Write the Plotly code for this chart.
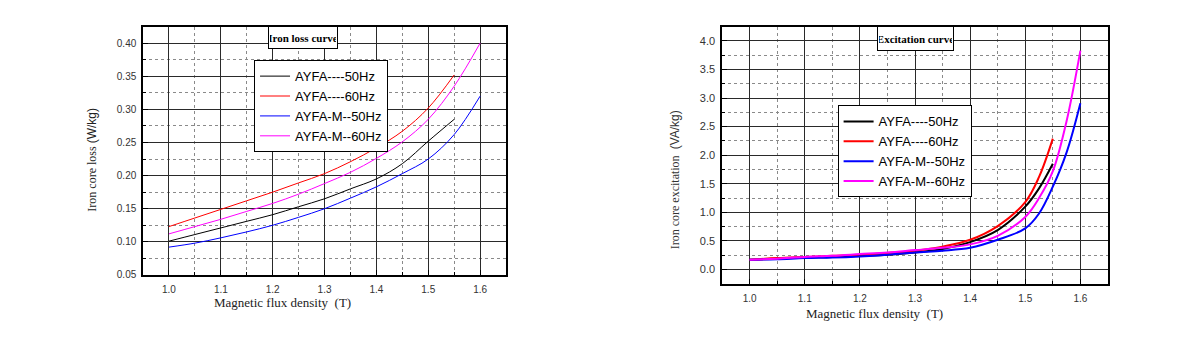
import plotly.graph_objects as go

# ---------------- data ----------------
series_names = ["AYFA----50Hz", "AYFA----60Hz", "AYFA-M--50Hz", "AYFA-M--60Hz"]
series_colors = ["#000000", "#ff0000", "#0000ff", "#ff00ff"]

# Iron loss curve (W/kg)
b_loss_short = [1.0, 1.05, 1.1, 1.15, 1.2, 1.25, 1.3, 1.35, 1.4, 1.45, 1.5, 1.55]
b_loss_long = [1.0, 1.05, 1.1, 1.15, 1.2, 1.25, 1.3, 1.35, 1.4, 1.45, 1.5, 1.55, 1.6]
loss_ayfa_50 = [0.101, 0.111, 0.121, 0.131, 0.141, 0.153, 0.165, 0.180, 0.195, 0.218, 0.252, 0.285]
loss_ayfa_60 = [0.123, 0.136, 0.149, 0.162, 0.175, 0.189, 0.203, 0.221, 0.242, 0.267, 0.302, 0.352]
loss_ayfam_50 = [0.092, 0.098, 0.106, 0.115, 0.125, 0.137, 0.150, 0.166, 0.183, 0.203, 0.225, 0.262, 0.320]
loss_ayfam_60 = [0.112, 0.123, 0.134, 0.146, 0.158, 0.172, 0.188, 0.205, 0.226, 0.251, 0.285, 0.335, 0.400]

# Excitation curve (VA/kg)
b_exc_short = [1.0, 1.05, 1.1, 1.15, 1.2, 1.25, 1.3, 1.35, 1.4, 1.45, 1.5, 1.525, 1.55]
b_exc_long = [1.0, 1.05, 1.1, 1.15, 1.2, 1.25, 1.3, 1.35, 1.4, 1.45, 1.5, 1.525, 1.55, 1.575, 1.6]
exc_ayfa_50 = [0.17, 0.19, 0.21, 0.22, 0.24, 0.26, 0.30, 0.36, 0.48, 0.69, 1.10, 1.42, 1.85]
exc_ayfa_60 = [0.17, 0.20, 0.22, 0.24, 0.26, 0.29, 0.33, 0.40, 0.52, 0.76, 1.18, 1.62, 2.29]
exc_ayfam_50 = [0.17, 0.18, 0.20, 0.21, 0.23, 0.26, 0.30, 0.33, 0.38, 0.52, 0.72, 0.98, 1.45, 2.05, 2.91]
exc_ayfam_60 = [0.17, 0.19, 0.22, 0.24, 0.27, 0.30, 0.34, 0.38, 0.44, 0.59, 0.92, 1.25, 1.72, 2.60, 3.83]

x_tick_vals = [1.0, 1.1, 1.2, 1.3, 1.4, 1.5, 1.6]
x_tick_text = ["1.0", "1.1", "1.2", "1.3", "1.4", "1.5", "1.6"]
loss_tick_vals = [0.05, 0.10, 0.15, 0.20, 0.25, 0.30, 0.35, 0.40]
loss_tick_text = ["0.05", "0.10", "0.15", "0.20", "0.25", "0.30", "0.35", "0.40"]
exc_tick_vals = [0.0, 0.5, 1.0, 1.5, 2.0, 2.5, 3.0, 3.5, 4.0]
exc_tick_text = ["0.0", "0.5", "1.0", "1.5", "2.0", "2.5", "3.0", "3.5", "4.0"]

# ---------------- figure ----------------
fig = go.Figure()

loss_sets = [(b_loss_short, loss_ayfa_50), (b_loss_short, loss_ayfa_60),
             (b_loss_long, loss_ayfam_50), (b_loss_long, loss_ayfam_60)]
exc_sets = [(b_exc_short, exc_ayfa_50), (b_exc_short, exc_ayfa_60),
            (b_exc_long, exc_ayfam_50), (b_exc_long, exc_ayfam_60)]

for name, color, (xs, ys) in zip(series_names, series_colors, loss_sets):
    fig.add_trace(go.Scatter(x=xs, y=ys, mode="lines", name=name,
                             line=dict(color=color, width=1, shape="spline"),
                             xaxis="x", yaxis="y", legend="legend"))
for name, color, (xs, ys) in zip(series_names, series_colors, exc_sets):
    fig.add_trace(go.Scatter(x=xs, y=ys, mode="lines", name=name,
                             line=dict(color=color, width=2, shape="spline"),
                             xaxis="x2", yaxis="y2", legend="legend2"))

tick_font = dict(family="Arial", size=10, color="#333333")
grid_major = "#2a2a2a"
grid_minor = "#8a8a8a"


def xaxis_cfg(domain, anchor):
    return dict(domain=domain, anchor=anchor, range=[0.95, 1.65],
                tickvals=x_tick_vals, ticktext=x_tick_text, tickfont=tick_font,
                ticks="inside", ticklen=5, tickcolor="black",
                showgrid=True, gridcolor=grid_major, gridwidth=1,
                showline=True, linecolor="black", linewidth=1.5, mirror=True,
                zeroline=False, ticklabelstandoff=4,
                minor=dict(dtick=0.05, tick0=0.95, showgrid=True, gridcolor=grid_minor,
                           griddash="dot", gridwidth=1, ticks="inside", ticklen=3,
                           tickcolor="black"))


fig.update_layout(
    width=1200, height=343,
    margin=dict(l=0, r=0, t=0, b=0),
    paper_bgcolor="white", plot_bgcolor="white",
    xaxis=xaxis_cfg([0.1192, 0.4217], "y"),
    xaxis2=xaxis_cfg([0.6017, 0.9233], "y2"),
    yaxis=dict(domain=[0.1866, 0.9213], anchor="x", range=[0.05, 0.425],
               tickvals=loss_tick_vals, ticktext=loss_tick_text, tickfont=tick_font,
               ticks="inside", ticklen=5, tickcolor="black",
               showgrid=True, gridcolor=grid_major, gridwidth=1,
               showline=True, linecolor="black", linewidth=1.5, mirror=True,
               zeroline=False, ticklabelstandoff=3,
               minor=dict(dtick=0.025, tick0=0.05, showgrid=True, gridcolor=grid_minor,
                          griddash="dot", gridwidth=1, ticks="inside", ticklen=3,
                          tickcolor="black")),
    yaxis2=dict(domain=[0.1603, 0.9213], anchor="x2", range=[-0.25, 4.25],
                tickvals=exc_tick_vals, ticktext=exc_tick_text,
                tickfont=dict(family="Arial", size=11, color="#333333"),
                ticks="inside", ticklen=5, tickcolor="black",
                showgrid=True, gridcolor=grid_major, gridwidth=1,
                showline=True, linecolor="black", linewidth=1.5, mirror=True,
                zeroline=False, ticklabelstandoff=3,
                minor=dict(dtick=0.25, tick0=0.0, showgrid=True, gridcolor=grid_minor,
                           griddash="dot", gridwidth=1, ticks="inside", ticklen=3,
                           tickcolor="black")),
    legend=dict(x=0.2117, y=0.822, xanchor="left", yanchor="top",
                bgcolor="white", bordercolor="black", borderwidth=1,
                font=dict(family="Arial", size=13, color="black"),
                itemwidth=30, tracegroupgap=0),
    legend2=dict(x=0.698, y=0.688, xanchor="left", yanchor="top",
                 bgcolor="white", bordercolor="black", borderwidth=1,
                 font=dict(family="Arial", size=13, color="black"),
                 itemwidth=30, tracegroupgap=0),
    showlegend=True,
)

serif = "Times New Roman, Liberation Serif, serif"
common = dict(xref="paper", yref="paper", showarrow=False, xanchor="center", yanchor="middle")
annotations = [
    # axis titles
    dict(text="Magnetic flux density  (T)", x=282 / 1200, y=1 - 307 / 343,
         font=dict(family=serif, size=13, color="#222222"), **common),
    dict(text="Magnetic flux density  (T)", x=874 / 1200, y=1 - 318 / 343,
         font=dict(family=serif, size=13, color="#222222"), **common),
    dict(text="Iron core loss <span style='font-family:Arial'>(W/kg)</span>",
         x=92 / 1200, y=1 - 162 / 343, textangle=-90,
         font=dict(family=serif, size=12, color="#222222"), **common),
    dict(text="Iron core excitation  <span style='font-family:Arial'>(VA/kg)</span>",
         x=675 / 1200, y=1 - 183 / 343, textangle=-90,
         font=dict(family=serif, size=12, color="#333333"), **common),
    # chart titles in boxes
    dict(text="<b>Iron loss curve</b>", x=302.5 / 1200, y=1 - 38 / 343,
         width=66, height=19, bgcolor="white", bordercolor="black", borderwidth=1,
         borderpad=1, font=dict(family=serif, size=11, color="black"), **common),
    dict(text="<b>Excitation curve</b>", x=915 / 1200, y=1 - 39 / 343,
         width=73, height=21, bgcolor="white", bordercolor="black", borderwidth=1,
         borderpad=1, font=dict(family=serif, size=11, color="black"), **common),
]
fig.update_layout(annotations=annotations)

fig.write_html("out.html")
